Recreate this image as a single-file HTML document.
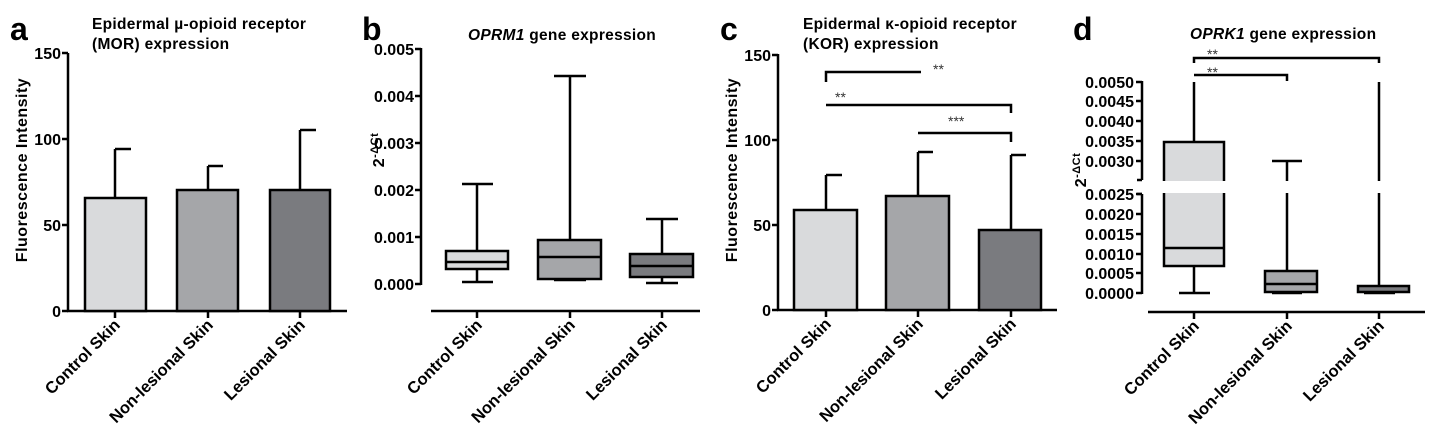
<!DOCTYPE html>
<html><head><meta charset="utf-8"><style>
html,body{margin:0;padding:0;background:#fff}
svg{display:block;font-family:"Liberation Sans",Arial,sans-serif}
.t{font-weight:bold;font-size:15.5px;letter-spacing:0.3px}
.tk{font-weight:bold;font-size:16px;text-anchor:end}
.cat{font-weight:bold;font-size:16.5px;text-anchor:end}
.L{font-weight:bold;font-size:32px}
.yl{font-weight:bold;font-size:16px;text-anchor:middle;letter-spacing:0.5px}
line,rect,path{stroke:#000;stroke-width:2.5}
.st{font-size:14px;fill:#333}
</style></head><body>
<svg width="1437" height="435" viewBox="0 0 1437 435">
<!-- Panel a -->
<text class="L" x="10" y="40">a</text>
<text class="t" x="92" y="29">Epidermal µ-opioid receptor</text>
<text class="t" x="92" y="49">(MOR) expression</text>
<text class="yl" transform="translate(27,170) rotate(-90)">Fluorescence Intensity</text>
<g fill="none">
<line x1="68" y1="53" x2="68" y2="312"/><line x1="67" y1="311" x2="347" y2="311"/>
<line x1="62" y1="53" x2="68" y2="53"/><line x1="62" y1="139" x2="68" y2="139"/><line x1="62" y1="225" x2="68" y2="225"/><line x1="62" y1="311" x2="68" y2="311"/>
<line x1="115" y1="311" x2="115" y2="318"/><line x1="208" y1="311" x2="208" y2="318"/><line x1="300" y1="311" x2="300" y2="318"/>
</g>
<text class="tk" x="61" y="59">150</text><text class="tk" x="61" y="145">100</text><text class="tk" x="61" y="231">50</text><text class="tk" x="61" y="317">0</text>
<line x1="115" y1="198" x2="115" y2="149"/><line x1="115" y1="149" x2="131" y2="149"/>
<line x1="208" y1="190" x2="208" y2="166"/><line x1="208" y1="166" x2="223" y2="166"/>
<line x1="300" y1="190" x2="300" y2="130"/><line x1="300" y1="130" x2="316" y2="130"/>
<rect x="85" y="198" width="61" height="113" fill="#d9dadc"/>
<rect x="177" y="190" width="61" height="121" fill="#a5a6a9"/>
<rect x="270" y="190" width="60" height="121" fill="#7a7b7f"/>
<text class="cat" transform="translate(121,326) rotate(-45)">Control Skin</text>
<text class="cat" transform="translate(214,326) rotate(-45)">Non-lesional Skin</text>
<text class="cat" transform="translate(306,326) rotate(-45)">Lesional Skin</text>

<!-- Panel b -->
<text class="L" x="362" y="40">b</text>
<text class="t" x="468" y="40"><tspan font-style="italic">OPRM1</tspan> gene expression</text>
<text class="yl" transform="translate(384,150) rotate(-90)">2<tspan dy="-6" font-size="11">-ΔCt</tspan></text>
<g fill="none">
<line x1="421" y1="48" x2="421" y2="285"/>
<line x1="415" y1="49" x2="421" y2="49"/><line x1="415" y1="96" x2="421" y2="96"/><line x1="415" y1="143" x2="421" y2="143"/><line x1="415" y1="190" x2="421" y2="190"/><line x1="415" y1="237" x2="421" y2="237"/><line x1="415" y1="284" x2="421" y2="284"/>
<line x1="431" y1="311" x2="700" y2="311"/>
<line x1="477" y1="311" x2="477" y2="318"/><line x1="570" y1="311" x2="570" y2="318"/><line x1="662" y1="311" x2="662" y2="318"/>
</g>
<text class="tk" x="414" y="55">0.005</text><text class="tk" x="414" y="102">0.004</text><text class="tk" x="414" y="149">0.003</text><text class="tk" x="414" y="196">0.002</text><text class="tk" x="414" y="243">0.001</text><text class="tk" x="414" y="290">0.000</text>
<line x1="477" y1="184" x2="477" y2="282"/><line x1="462" y1="184" x2="493" y2="184"/><line x1="462" y1="282" x2="493" y2="282"/>
<rect x="446" y="251" width="62" height="18" fill="#d9dadc"/><line x1="446" y1="262" x2="508" y2="262"/>
<line x1="570" y1="76" x2="570" y2="280"/><line x1="554" y1="76" x2="586" y2="76"/><line x1="554" y1="280" x2="586" y2="280"/>
<rect x="538" y="240" width="63" height="39" fill="#a5a6a9"/><line x1="538" y1="257" x2="601" y2="257"/>
<line x1="662" y1="219" x2="662" y2="283"/><line x1="646" y1="219" x2="678" y2="219"/><line x1="646" y1="283" x2="678" y2="283"/>
<rect x="630" y="254" width="63" height="23" fill="#7a7b7f"/><line x1="630" y1="266" x2="693" y2="266"/>
<text class="cat" transform="translate(483,326) rotate(-45)">Control Skin</text>
<text class="cat" transform="translate(576,326) rotate(-45)">Non-lesional Skin</text>
<text class="cat" transform="translate(668,326) rotate(-45)">Lesional Skin</text>

<!-- Panel c -->
<text class="L" x="720" y="40">c</text>
<text class="t" x="803" y="29">Epidermal κ-opioid receptor</text>
<text class="t" x="803" y="49">(KOR) expression</text>
<text class="yl" transform="translate(737,170) rotate(-90)">Fluorescence Intensity</text>
<g fill="none">
<line x1="778" y1="54" x2="778" y2="311"/><line x1="777" y1="310" x2="1057" y2="310"/>
<line x1="772" y1="55" x2="778" y2="55"/><line x1="772" y1="140" x2="778" y2="140"/><line x1="772" y1="225" x2="778" y2="225"/><line x1="772" y1="310" x2="778" y2="310"/>
<line x1="826" y1="310" x2="826" y2="317"/><line x1="918" y1="310" x2="918" y2="317"/><line x1="1011" y1="310" x2="1011" y2="317"/>
<path d="M826 82 V72 H921"/><path d="M826 105 H1011 V113"/><path d="M918 133 H1011 V142"/>
</g>
<text class="tk" x="771" y="61">150</text><text class="tk" x="771" y="146">100</text><text class="tk" x="771" y="231">50</text><text class="tk" x="771" y="316">0</text>
<text class="st" x="933" y="74">**</text><text class="st" x="835" y="102">**</text><text class="st" x="948" y="126">***</text>
<line x1="826" y1="210" x2="826" y2="175"/><line x1="826" y1="175" x2="842" y2="175"/>
<line x1="918" y1="196" x2="918" y2="152"/><line x1="918" y1="152" x2="933" y2="152"/>
<line x1="1011" y1="230" x2="1011" y2="155"/><line x1="1011" y1="155" x2="1026" y2="155"/>
<rect x="794" y="210" width="63" height="100" fill="#d9dadc"/>
<rect x="886" y="196" width="63" height="114" fill="#a5a6a9"/>
<rect x="979" y="230" width="62" height="80" fill="#7a7b7f"/>
<text class="cat" transform="translate(832,325) rotate(-45)">Control Skin</text>
<text class="cat" transform="translate(924,325) rotate(-45)">Non-lesional Skin</text>
<text class="cat" transform="translate(1017,325) rotate(-45)">Lesional Skin</text>

<!-- Panel d -->
<text class="L" x="1073" y="40">d</text>
<text class="t" x="1190" y="39"><tspan font-style="italic">OPRK1</tspan> gene expression</text>
<text class="yl" transform="translate(1086,170) rotate(-90)">2<tspan dy="-6" font-size="11">-ΔCt</tspan></text>
<g fill="none">
<path d="M1194 63 V58 H1379 V63"/><path d="M1194 75 H1287 V81"/>
<line x1="1142" y1="81" x2="1142" y2="180"/><line x1="1142" y1="194" x2="1142" y2="294"/>
<line x1="1137" y1="180" x2="1142" y2="180"/><line x1="1137" y1="194" x2="1142" y2="194"/>
<line x1="1148" y1="312" x2="1425" y2="312"/>
<line x1="1194" y1="312" x2="1194" y2="319"/><line x1="1287" y1="312" x2="1287" y2="319"/><line x1="1379" y1="312" x2="1379" y2="319"/>
</g>
<g fill="none">
<line x1="1136" y1="82" x2="1142" y2="82"/><line x1="1136" y1="101" x2="1142" y2="101"/><line x1="1136" y1="121" x2="1142" y2="121"/><line x1="1136" y1="141" x2="1142" y2="141"/><line x1="1136" y1="161" x2="1142" y2="161"/>
<line x1="1136" y1="194" x2="1142" y2="194"/><line x1="1136" y1="214" x2="1142" y2="214"/><line x1="1136" y1="234" x2="1142" y2="234"/><line x1="1136" y1="254" x2="1142" y2="254"/><line x1="1136" y1="273" x2="1142" y2="273"/><line x1="1136" y1="293" x2="1142" y2="293"/>
</g>
<g class="tk"><text x="1134" y="88">0.0050</text><text x="1134" y="107">0.0045</text><text x="1134" y="127">0.0040</text><text x="1134" y="147">0.0035</text><text x="1134" y="167">0.0030</text>
<text x="1134" y="200">0.0025</text><text x="1134" y="220">0.0020</text><text x="1134" y="240">0.0015</text><text x="1134" y="260">0.0010</text><text x="1134" y="279">0.0005</text><text x="1134" y="299">0.0000</text></g>
<text class="st" x="1207" y="59" font-size="13">**</text><text class="st" x="1207" y="77" font-size="13">**</text>
<line x1="1194" y1="82" x2="1194" y2="293"/><line x1="1179" y1="293" x2="1210" y2="293"/>
<rect x="1164" y="142" width="60" height="124" fill="#d9dadc"/><line x1="1164" y1="248" x2="1224" y2="248"/>
<line x1="1287" y1="161" x2="1287" y2="292"/><line x1="1272" y1="161" x2="1302" y2="161"/><line x1="1272" y1="293" x2="1302" y2="293"/>
<rect x="1265" y="271" width="52" height="21" fill="#a5a6a9"/><line x1="1265" y1="284" x2="1317" y2="284"/>
<line x1="1379" y1="82" x2="1379" y2="286"/><line x1="1364" y1="293" x2="1395" y2="293"/>
<rect x="1358" y="286" width="51" height="6" fill="#7a7b7f"/>
<rect x="1143" y="181" width="290" height="12" fill="#fff" style="stroke:none"/>
<text class="cat" transform="translate(1200,327) rotate(-45)">Control Skin</text>
<text class="cat" transform="translate(1293,327) rotate(-45)">Non-lesional Skin</text>
<text class="cat" transform="translate(1385,327) rotate(-45)">Lesional Skin</text>
</svg>
</body></html>
